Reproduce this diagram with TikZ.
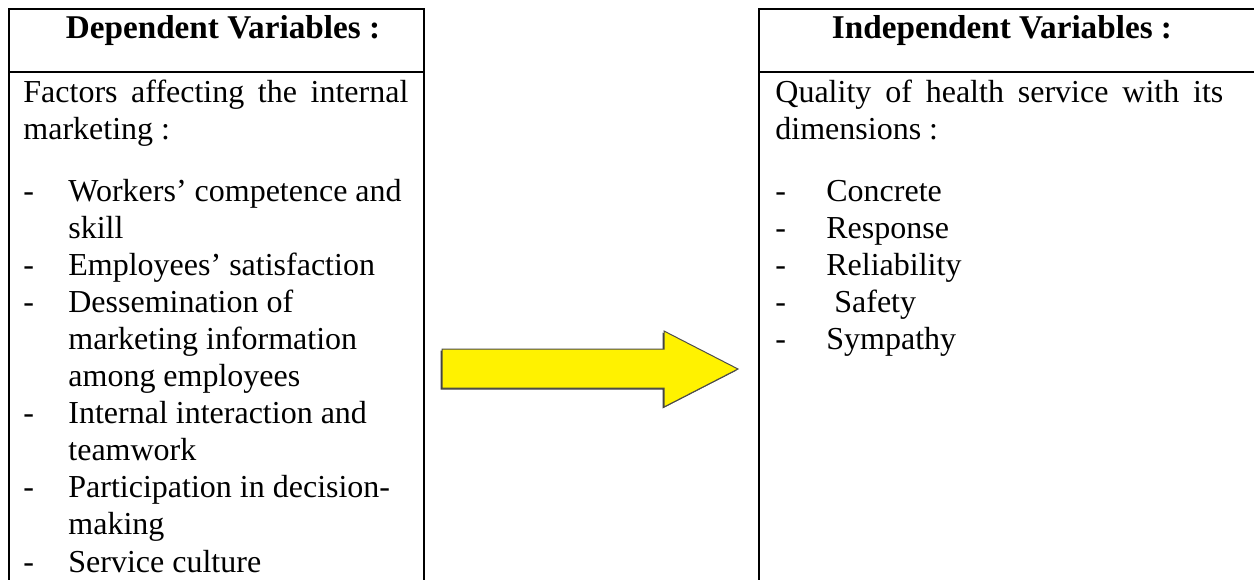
\documentclass[tikz,border=0pt]{standalone}
\usepackage{fontspec}
\setmainfont{Liberation Serif}
% one list entry: a dash in a box of width #1, later lines hang under the text
\newcommand{\dashitem}[2][22.5pt]{\par\hangindent=#1\hangafter=1\noindent\makebox[#1][l]{-}#2\par}
\begin{document}
\begin{tikzpicture}[x=0.5pt,y=-0.5pt,
  frame/.style={line width=1pt, draw=black},
  headtext/.style={font=\fontsize{16.6pt}{19pt}\selectfont\bfseries, inner sep=0pt, anchor=base},
  bodytext/.style={font=\fontsize{16pt}{18.55pt}\selectfont, inner sep=0pt, anchor=base west,
    align=justify, execute at begin node={\hyphenpenalty=10000\exhyphenpenalty=10000}},
  arrowshape/.style={fill=yellow, draw=black!70, line width=0.5pt, line join=miter},
  arrowshade/.style={fill=black!75}]
\useasboundingbox (0,0) rectangle (1254,579);
\clip (0,0) rectangle (1254,579);
\fill[white] (0,0) rectangle (1254,579);

% left cell: header row and body
\draw[frame] (9,640) -- (9,9) -- (424,9) -- (424,640);
\draw[frame] (9,72) -- (424,72);
% right cell, running past the right edge
\draw[frame] (759,640) -- (759,9) -- (1300,9);
\draw[frame] (759,72) -- (1300,72);

\node[headtext] (lhead) at (223,38) {Dependent Variables :};
\node[headtext] (rhead) at (1002,38) {Independent Variables :};

\node[bodytext, text width=192.5pt] (lbody) at (23,102) {%
  Factors affecting the internal\linebreak marketing~:\par
  \vspace{12.4pt}%
  \dashitem{Workers’ competence and\\skill}%
  \dashitem{Employees’ satisfaction}%
  \dashitem{Dessemination of\\marketing information\\among employees}%
  \dashitem{Internal interaction and\\teamwork}%
  \dashitem{Participation in decision-\\making}%
  \dashitem{Service culture}};

\node[bodytext, text width=224pt] (rbody) at (775,102) {%
  Quality of health service with its\linebreak dimensions~:\par
  \vspace{12.4pt}%
  \dashitem[25.5pt]{Concrete}%
  \dashitem[25.5pt]{Response}%
  \dashitem[25.5pt]{Reliability}%
  \dashitem[25.5pt]{\ Safety}%
  \dashitem[25.5pt]{Sympathy}};

% block arrow between the two cells, with a thin dark edge on its lower left
\fill[arrowshade] (440.5,350.5) -- (662.5,350.5) -- (662.5,332.5) -- (736.5,370.5)
  -- (662.5,408.5) -- (662.5,389.5) -- (440.5,389.5) -- cycle;
\draw[arrowshape] (442,349) -- (664,349) -- (664,331) -- (738,369)
  -- (664,407) -- (664,388) -- (442,388) -- cycle;
\end{tikzpicture}
\end{document}
